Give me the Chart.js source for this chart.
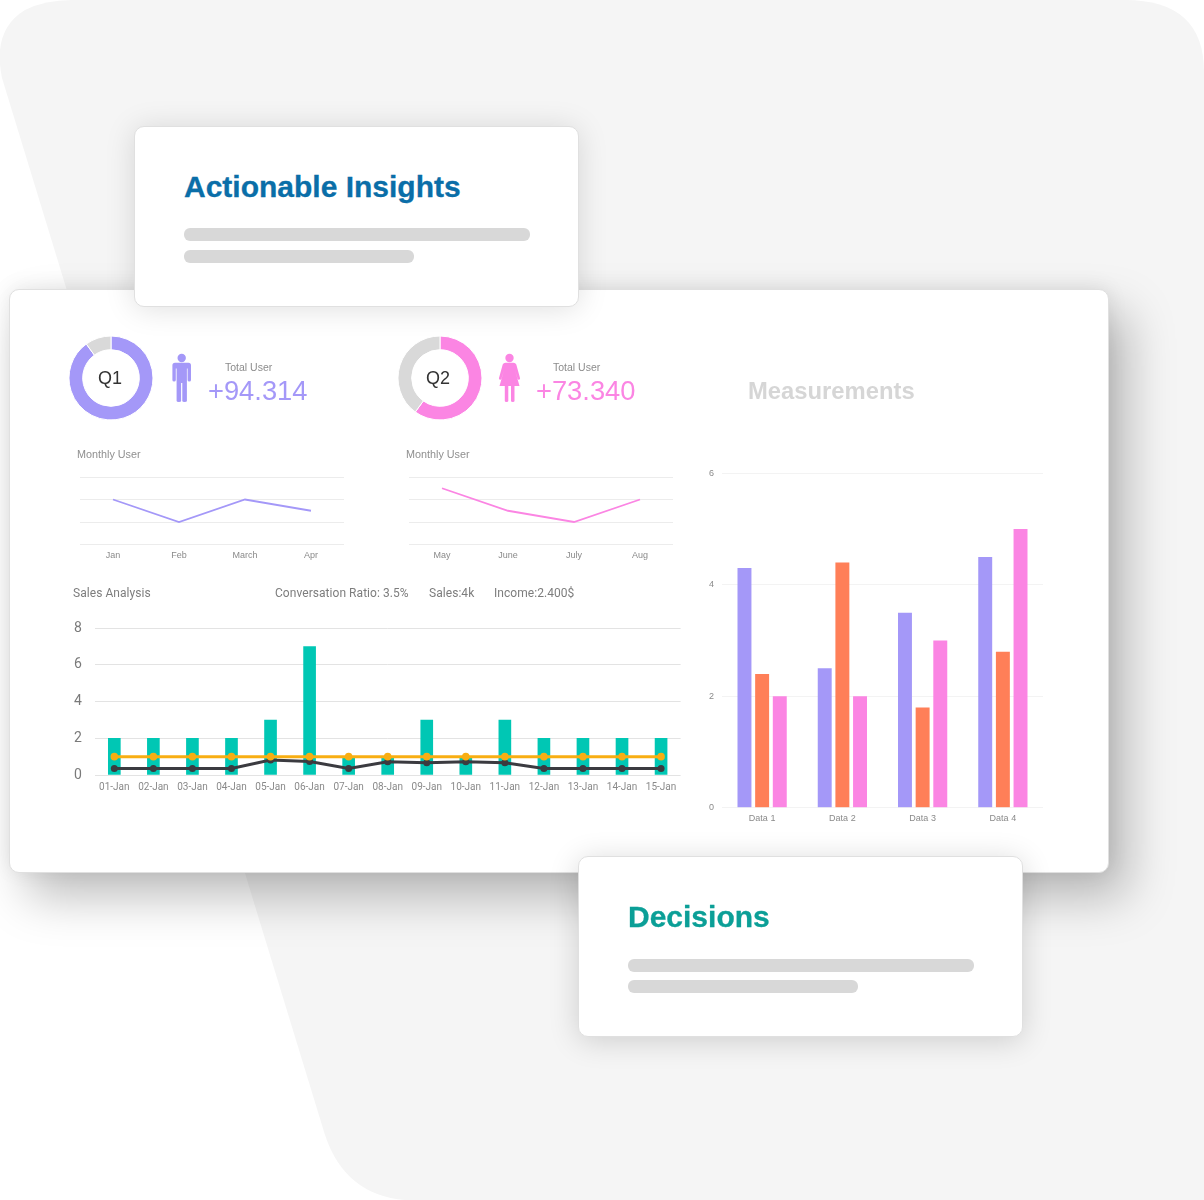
<!DOCTYPE html>
<html>
<head>
<meta charset="utf-8">
<title>Dashboard</title>
<script src="https://cdn.jsdelivr.net/npm/chart.js@4/dist/chart.umd.min.js"></script>
<style>
    html, body { margin: 0; padding: 0; background: #fff; }
    #page { position: relative; width: 1204px; height: 1200px; overflow: hidden; font-family: "Liberation Sans", Arial, sans-serif; }
    #backdrop { position: absolute; left: 0; top: 0; }
    .card { position: absolute; background: #fff; box-sizing: border-box; border: 1px solid #e0e0e0; border-radius: 10px; }
    #mainCard { left: 9px; top: 289px; width: 1100px; height: 584px; box-shadow: 18px 24px 48px rgba(0,0,0,.26), 0 -2px 20px rgba(0,0,0,.08); }
    #topCard { left: 134px; top: 126px; width: 445px; height: 181px; box-shadow: 0 2px 30px rgba(0,0,0,.13); }
    #bottomCard { left: 578px; top: 856px; width: 445px; height: 181px; box-shadow: 0 4px 30px rgba(0,0,0,.16); }
    .txt { position: absolute; white-space: nowrap; line-height: 20px; }
    .heading { font-weight: bold; font-size: 30px; line-height: 36px; -webkit-text-stroke: .3px currentColor; }
    .stub { position: absolute; background: #d8d8d8; border-radius: 6px; height: 13px; }
    .quarter { font-size: 18px; color: #333; }
    .caption { font-size: 10.5px; color: #8c8c8c; }
    .total { font-size: 27.3px; }
    .monthly { font-size: 10.8px; color: #8f8f8f; }
    .sales { font-family: Roboto, sans-serif; font-size: 12px; color: #7d7d7d; letter-spacing: .05px; }
    canvas { position: absolute; }
    svg.figure { position: absolute; left: 0; top: 0; }
</style>
</head>
<body>
<div id="page">
    <svg id="backdrop" width="1204" height="1200">
        <path fill="#f5f5f5" d="M72 0 H1125 Q1204 0 1204 72 V1200 H405 Q345 1195 325 1135 L2 78 Q-8 30 25 10 Q45 0 72 0 Z"/>
    </svg>

    <div class="card" id="mainCard"></div>

    <div class="card" id="topCard"></div>
    <div class="txt heading" style="left:184px; top:169px; color:#0a6ea8;">Actionable Insights</div>
    <div class="stub" style="left:184px; top:228px; width:346px;"></div>
    <div class="stub" style="left:184px; top:250px; width:230px;"></div>

    <canvas id="donutQ1" width="90" height="90" style="left:66px; top:333px;"></canvas>
    <canvas id="donutQ2" width="90" height="90" style="left:395px; top:333px;"></canvas>
    <div class="txt quarter" style="left:98px; top:368px;">Q1</div>
    <div class="txt quarter" style="left:426px; top:368px;">Q2</div>

    <!-- man and woman icons next to the totals -->
    <svg class="figure" width="1204" height="1200">
        <g fill="#a498f8">
            <circle cx="181.7" cy="358" r="4.2"/>
            <path d="M175 362.8 H188.5 Q191 362.8 191 365.5 V380 Q191 381.5 189.3 381.5 Q187.6 381.5 187.6 380 V368.5 H186.9 V401 Q186.9 402 184.6 402 Q182.3 402 182.3 401 V383 H181.1 V401 Q181.1 402 178.9 402 Q176.6 402 176.6 401 V368.5 H175.8 V380 Q175.8 381.5 174.1 381.5 Q172.4 381.5 172.4 380 V365.5 Q172.4 362.8 175 362.8 Z"/>
        </g>
        <g fill="#fb85e3">
            <circle cx="509.5" cy="358" r="4.2"/>
            <path d="M505.5 362.8 H513.5 Q515.5 362.8 516.3 364.5 L520 378 Q520.3 379.5 519 379.8 Q518 380 517.6 378.8 L515 370 L519.5 386 H514.5 V401 Q514.5 402 512.8 402 Q511 402 511 401 V386 H508.3 V401 Q508.3 402 506.5 402 Q504.8 402 504.8 401 V386 H499.5 L504 370 L501.4 378.8 Q501 380 500 379.8 Q498.7 379.5 499 378 L502.7 364.5 Q503.5 362.8 505.5 362.8 Z"/>
        </g>
    </svg>

    <div class="txt caption" style="left:225px; top:357px;">Total User</div>
    <div class="txt total" style="left:208px; top:381px; color:#a498f8;">+94.314</div>
    <div class="txt caption" style="left:553px; top:357px;">Total User</div>
    <div class="txt total" style="left:536px; top:381px; color:#fb85e3;">+73.340</div>
    <div class="txt" style="left:748px; top:381px; font-size:23.8px; font-weight:bold; color:#d6d6d6;">Measurements</div>

    <div class="txt monthly" style="left:77px; top:444px;">Monthly User</div>
    <div class="txt monthly" style="left:406px; top:444px;">Monthly User</div>
    <canvas id="lineFirst" width="285" height="100" style="left:70px; top:470px;"></canvas>
    <canvas id="lineSecond" width="285" height="100" style="left:399px; top:470px;"></canvas>

    <div class="txt sales" style="left:73px; top:583px;">Sales Analysis</div>
    <div class="txt sales" style="left:275px; top:583px;">Conversation Ratio: 3.5%</div>
    <div class="txt sales" style="left:429px; top:583px;">Sales:4k</div>
    <div class="txt sales" style="left:494px; top:583px;">Income:2.400$</div>
    <canvas id="salesChart" width="640" height="190" style="left:60px; top:615px;"></canvas>

    <canvas id="measureChart" width="350" height="370" style="left:700px; top:460px;"></canvas>

    <div class="card" id="bottomCard"></div>
    <div class="txt heading" style="left:628px; top:899px; color:#0b9f97;">Decisions</div>
    <div class="stub" style="left:628px; top:959px; width:346px;"></div>
    <div class="stub" style="left:628px; top:980px; width:230px;"></div>
</div>

<script>
const purple = '#a498f8';
const pink = '#fb85e3';
const orange = '#ff7f58';
const teal = '#00c7b4';
const yellow = '#f8ae12';
const darkLine = '#3b3b40';
const donutGray = '#d9d9d9';

// donut shares
const q1_share = [90, 10];
const q2_share = [60, 40];

// monthly user lines
const months_first = ['Jan', 'Feb', 'March', 'Apr'];
const users_first = [2, 1, 2, 1.5];
const months_second = ['May', 'June', 'July', 'Aug'];
const users_second = [2.5, 1.5, 1, 2];

// sales analysis
const sales_days = ['01-Jan', '02-Jan', '03-Jan', '04-Jan', '05-Jan', '06-Jan', '07-Jan', '08-Jan',
    '09-Jan', '10-Jan', '11-Jan', '12-Jan', '13-Jan', '14-Jan', '15-Jan'];
const sales_bars = [2, 2, 2, 2, 3, 7, 1, 1, 3, 1, 3, 2, 2, 2, 2];
const sales_target = [1, 1, 1, 1, 1, 1, 1, 1, 1, 1, 1, 1, 1, 1, 1];
const sales_ratio = [0.36, 0.36, 0.36, 0.36, 0.82, 0.73, 0.36, 0.72, 0.67, 0.72, 0.67, 0.36, 0.36, 0.36, 0.36];

// measurements
const measure_labels = ['Data 1', 'Data 2', 'Data 3', 'Data 4'];
const measure_purple = [4.3, 2.5, 3.5, 4.5];
const measure_orange = [2.4, 4.4, 1.8, 2.8];
const measure_pink = [2, 2, 3, 5];

Chart.defaults.animation = false;
Chart.defaults.responsive = false;
Chart.defaults.plugins.legend.display = false;
Chart.defaults.font.family = '"Liberation Sans", Arial, sans-serif';

// Fixes the axis thickness so the plot area lands in a known place.
// Tick padding on a y axis also pushes the plot top down, so that is cleared here.
function fitWidth(size) {
    return function(scale) {
        scale.width = size;
        scale.paddingTop = 0;
        scale.paddingBottom = 0;
    };
}
function fitHeight(size) {
    return function(scale) { scale.height = size; };
}

function makeDonut(id, share, color) {
    new Chart(document.getElementById(id), {
        type: 'doughnut',
        data: {
            datasets: [{
                data: share,
                backgroundColor: [color, donutGray],
                borderColor: '#fff',
                borderWidth: 1
            }]
        },
        options: { radius: 42, cutout: 30 }
    });
}

function makeLine(id, labels, values, color) {
    new Chart(document.getElementById(id), {
        type: 'line',
        data: {
            labels: labels,
            datasets: [{
                data: values,
                borderColor: color,
                borderWidth: 1.8,
                pointRadius: 0,
                tension: 0
            }]
        },
        options: {
            layout: { autoPadding: false, padding: { left: 10, right: 11, top: 7 } },
            scales: {
                x: {
                    offset: true,
                    afterFit: fitHeight(25.5),
                    grid: { display: false, drawTicks: false },
                    border: { display: false },
                    ticks: { color: '#8a8a8a', font: { size: 9 }, padding: 6, maxRotation: 0 }
                },
                y: {
                    min: 0,
                    max: 3,
                    afterFit: fitWidth(0),
                    border: { display: false },
                    grid: { color: '#ececec', drawTicks: false },
                    ticks: { display: false, stepSize: 1 }
                }
            }
        }
    });
}

document.addEventListener("DOMContentLoaded", function() {
    makeDonut('donutQ1', q1_share, purple);
    makeDonut('donutQ2', q2_share, pink);
    makeLine('lineFirst', months_first, users_first, purple);
    makeLine('lineSecond', months_second, users_second, pink);

    // bars with two lines on top
    new Chart(document.getElementById('salesChart'), {
        type: 'bar',
        data: {
            labels: sales_days,
            datasets: [
                {
                    type: 'line',
                    data: sales_target,
                    borderColor: yellow,
                    backgroundColor: yellow,
                    borderWidth: 3,
                    pointRadius: 3.8,
                    pointBorderWidth: 0,
                    tension: 0,
                    order: 1
                },
                {
                    type: 'line',
                    data: sales_ratio,
                    borderColor: darkLine,
                    backgroundColor: darkLine,
                    borderWidth: 3,
                    pointRadius: 3.5,
                    pointBorderWidth: 0,
                    tension: 0,
                    order: 2
                },
                {
                    data: sales_bars,
                    backgroundColor: teal,
                    barThickness: 12,
                    order: 3
                }
            ]
        },
        options: {
            layout: { autoPadding: false, padding: { right: 19.4, top: 13.3 } },
            scales: {
                x: {
                    afterFit: fitHeight(30),
                    grid: { display: false, drawTicks: false },
                    border: { display: false },
                    ticks: {
                        color: '#8a8a8a',
                        font: { family: 'Roboto', size: 10 },
                        padding: 6,
                        autoSkip: false,
                        maxRotation: 0
                    }
                },
                y: {
                    min: 0,
                    max: 8,
                    afterFit: fitWidth(34.8),
                    border: { display: false },
                    grid: { color: '#e3e3e3', drawTicks: false },
                    ticks: {
                        stepSize: 2,
                        color: '#7a7a7a',
                        font: { family: 'Roboto', size: 14 },
                        padding: 13
                    }
                }
            }
        }
    });

    new Chart(document.getElementById('measureChart'), {
        type: 'bar',
        data: {
            labels: measure_labels,
            datasets: [
                { data: measure_purple, backgroundColor: purple },
                { data: measure_orange, backgroundColor: orange },
                { data: measure_pink, backgroundColor: pink }
            ]
        },
        options: {
            layout: { autoPadding: false, padding: { right: 7, top: 13.3 } },
            datasets: { bar: { categoryPercentage: 0.66, barPercentage: 0.79 } },
            scales: {
                x: {
                    afterFit: fitHeight(22.3),
                    grid: { display: false, drawTicks: false },
                    border: { display: false },
                    ticks: { color: '#8a8a8a', font: { size: 9 }, padding: 5, maxRotation: 0 }
                },
                y: {
                    min: 0,
                    max: 6,
                    afterFit: fitWidth(22),
                    border: { display: false },
                    grid: { color: '#f3f3f3', drawTicks: false },
                    ticks: { stepSize: 2, color: '#8a8a8a', font: { size: 9 }, padding: 8 }
                }
            }
        }
    });
});
</script>
</body>
</html>
